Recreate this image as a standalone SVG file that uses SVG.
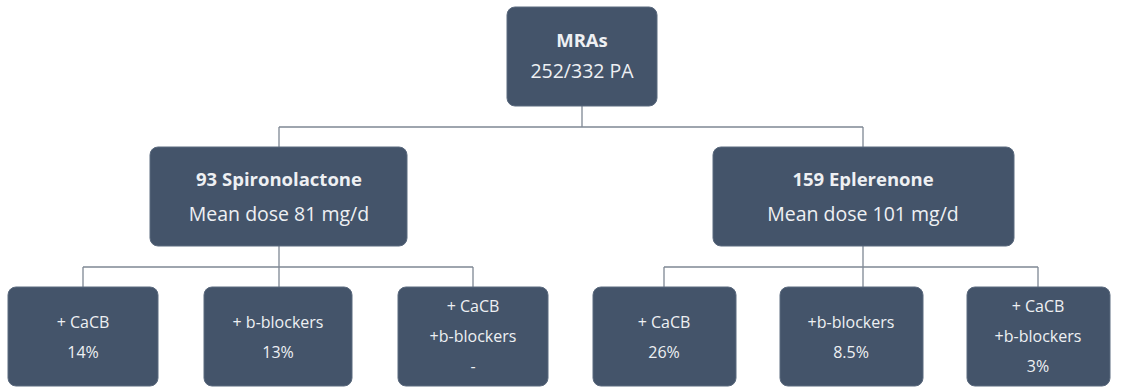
<svg xmlns="http://www.w3.org/2000/svg" width="1125" height="387" viewBox="0 0 1125 387">
<style>
.box{fill:#44546a;stroke:#5b6a7e;stroke-width:1}
.t{font-family:"Open Sans",Lato,"Liberation Sans",sans-serif;fill:#eef0f3;text-anchor:middle}
.b{font-weight:bold;font-size:18.5px}
.m{font-size:19.5px}
.s{font-size:16px}
.c{fill:none;stroke:#7f8894;stroke-width:1.3}
</style>
<rect width="1125" height="387" fill="#ffffff"/>
<g id="connectors">
<path class="c" d="M582 106V127M279 127H863M279 127V147M863 127V147"/>
<path class="c" d="M279 246V287M83 267H473M83 267V287M473 267V287"/>
<path class="c" d="M863 246V287M664 267H1038M664 267V287M1038 267V287"/>
</g>
<g id="mras"><rect class="box" x="507" y="7" width="150" height="99" rx="8"/>
<text class="t b" x="582" y="47">MRAs</text><text class="t m" x="582" y="78">252/332 PA</text></g>
<g id="spiro"><rect class="box" x="150" y="147" width="257" height="99" rx="8"/>
<text class="t b" x="279" y="186">93 Spironolactone</text><text class="t m" x="279" y="221">Mean dose 81 mg/d</text></g>
<g id="eple"><rect class="box" x="713" y="147" width="301" height="99" rx="8"/>
<text class="t b" x="863" y="186">159 Eplerenone</text><text class="t m" x="863" y="221">Mean dose 101 mg/d</text></g>
<g id="s1"><rect class="box" x="8" y="287" width="150" height="99" rx="8"/>
<text class="t s" x="83" y="328">+ CaCB</text><text class="t s" x="83" y="358">14%</text></g>
<g id="s2"><rect class="box" x="204" y="287" width="148" height="99" rx="8"/>
<text class="t s" x="278" y="328">+ b-blockers</text><text class="t s" x="278" y="358">13%</text></g>
<g id="s3"><rect class="box" x="398" y="287" width="150" height="99" rx="8"/>
<text class="t s" x="473" y="312">+ CaCB</text><text class="t s" x="473" y="342">+b-blockers</text><text class="t s" x="473" y="372">-</text></g>
<g id="e1"><rect class="box" x="593" y="287" width="143" height="99" rx="8"/>
<text class="t s" x="664" y="328">+ CaCB</text><text class="t s" x="664" y="358">26%</text></g>
<g id="e2"><rect class="box" x="780" y="287" width="143" height="99" rx="8"/>
<text class="t s" x="851" y="328">+b-blockers</text><text class="t s" x="851" y="358">8.5%</text></g>
<g id="e3"><rect class="box" x="967" y="287" width="143" height="99" rx="8"/>
<text class="t s" x="1038" y="312">+ CaCB</text><text class="t s" x="1038" y="342">+b-blockers</text><text class="t s" x="1038" y="372">3%</text></g>
</svg>
